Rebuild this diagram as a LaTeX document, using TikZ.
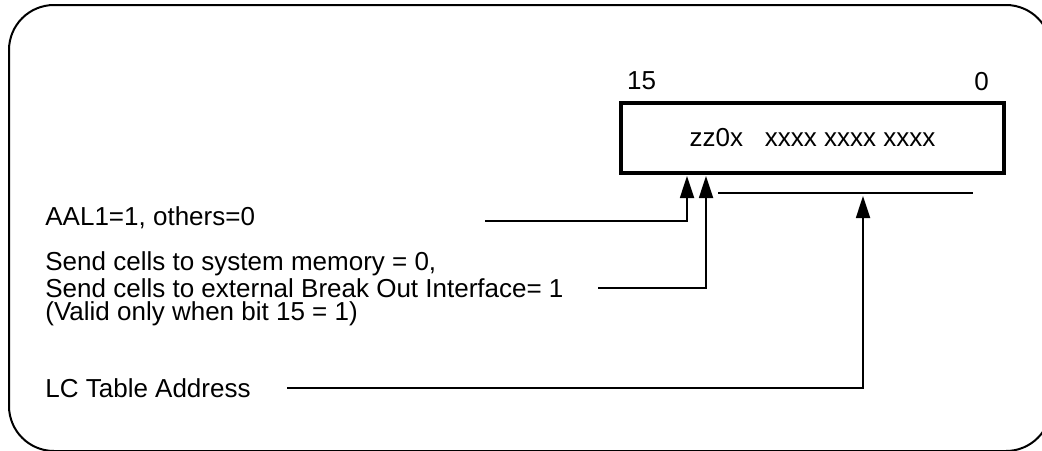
\documentclass[tikz,border=0pt]{standalone}
\usepackage{fontspec}
\setmainfont{Liberation Sans}
\usepackage{xcolor}
\definecolor{ink}{HTML}{000000}
\usepackage{tikz}
\usetikzlibrary{arrows.meta}

\begin{document}
\begin{tikzpicture}[
  x=0.5pt, y=-0.5pt,
  font=\fontsize{13pt}{11.5pt}\selectfont,
  frame/.style={draw=ink, line width=1pt, rounded corners=22.5pt},
  reg/.style={draw=ink, line width=2pt, minimum width=191.5pt, minimum height=35pt,
              inner sep=0pt},
  lbl/.style={anchor=base west, inner sep=0pt, align=left, text=ink},
  bitno/.style={anchor=base, inner sep=0pt, text=ink},
  link/.style={-{Triangle[length=11pt,width=7pt]}, ink, line width=0.9pt},
  plain/.style={ink, line width=0.9pt}
]
  \clip (0,0) rectangle (1042,450);
  \draw[frame] (9,5) rectangle (1051,451);

  % register word
  \node[reg] (reg) at (812.5,138) {zz0x~~~xxxx xxxx xxxx};
  \node[bitno] (b15) at (641.5,89) {15};
  \node[bitno] (b0)  at (981.5,90) {0};

  % field descriptions (base of a multi-line node = its last line)
  \node[lbl] (aal)  at (45,225) {AAL1=1, others=0};
  \node[lbl] (send) at (45,320) {Send cells to system memory = 0,\\
                                 Send cells to external Break Out Interface= 1\\
                                 (Valid only when bit 15 = 1)};
  \node[lbl] (lc)   at (45,397) {LC Table Address};

  \coordinate (aal-in)  at (485,221);
  \coordinate (bit15)   at (687,176);
  \coordinate (send-in) at (598,288);
  \coordinate (bit14)   at (706,176);
  \coordinate (lc-in)   at (287,388);
  \coordinate (lc-tip)  at (863,196);
  \coordinate (lowL)    at (718,193);
  \coordinate (lowR)    at (973,193);

  \draw[link] (aal-in) -| (bit15);
  \draw[link] (send-in) -| (bit14);
  \draw[plain] (lowL) -- (lowR);
  \draw[link] (lc-in) -| (lc-tip);
\end{tikzpicture}
\end{document}
